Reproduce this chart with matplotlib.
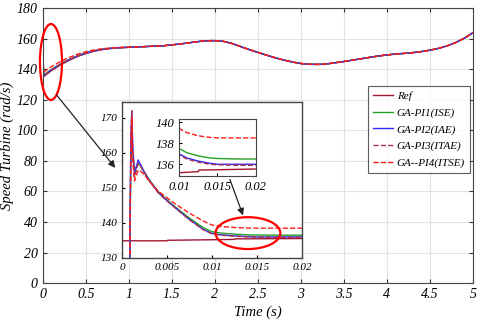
import numpy as np
import matplotlib.pyplot as plt
from matplotlib.patches import Ellipse, FancyArrowPatch

plt.rcParams['font.family'] = ['Liberation Serif', 'DejaVu Serif']
plt.rcParams['font.style'] = 'italic'

# --- data ---
# start-up transient (first 0.02 s)
t_in = [0, 0.0008, 0.0009, 0.0010, 0.0011, 0.0012, 0.0014, 0.0016, 0.0018, 0.0020,
        0.0025, 0.003, 0.004, 0.005, 0.006, 0.0075, 0.009, 0.010, 0.011, 0.0125,
        0.014, 0.015, 0.0175, 0.020]
pi1_in = [0, 0, 135, 158, 166, 160, 155, 156, 157, 156.5, 154.5, 152.5, 149, 146.6,
          144.4, 141.4, 138.7, 137.5, 137.1, 136.8, 136.6, 136.55, 136.5, 136.5]
pi2_in = [0, 0, 140, 165, 172, 162, 154, 156, 158, 157, 154.5, 152.3, 148.8, 146.4,
          144.2, 141.0, 138.2, 137.0, 136.6, 136.3, 136.1, 136.0, 136.0, 136.0]
pi3_in = [0, 0, 140, 166, 172, 161, 153, 155, 157, 156.5, 154.3, 152.2, 148.7, 146.3,
          144.1, 140.9, 138.1, 136.9, 136.5, 136.2, 136.0, 135.95, 135.9, 135.9]
pi4_in = [0, 0, 138, 160, 170, 158, 152, 153.5, 155, 155, 153.8, 152.0, 149.2, 147.2,
          145.3, 142.8, 140.6, 139.4, 139.0, 138.7, 138.55, 138.5, 138.5, 138.5]
t_ref_in = [0, 0.005, 0.0051, 0.010, 0.0125, 0.0126, 0.020]
ref_in = [134.9, 134.9, 135.05, 135.2, 135.3, 135.45, 135.55]

# rise up to 1 s
t_early = [0.1, 0.2, 0.3, 0.4, 0.5, 0.6, 0.7, 0.8, 0.9, 1.0]
ref_early = [139.0, 142.5, 145.6, 148.2, 150.2, 151.8, 152.9, 153.6, 154.0, 154.3]
pi1_early = [139.8, 143.2, 146.2, 148.7, 150.6, 152.1, 153.1, 153.7, 154.1, 154.3]
pi2_early = [139.5, 143.0, 146.0, 148.5, 150.5, 152.0, 153.0, 153.7, 154.1, 154.3]
pi3_early = [139.4, 142.9, 145.9, 148.5, 150.5, 152.0, 153.0, 153.7, 154.1, 154.3]
pi4_early = [141.6, 144.8, 147.5, 149.7, 151.4, 152.6, 153.4, 153.9, 154.2, 154.4]

# all curves overlap after 1 s
t_tail = [1.2, 1.4, 1.6, 1.8, 1.9, 2.0, 2.1, 2.2, 2.3, 2.4, 2.5, 2.6, 2.7, 2.8, 2.9,
          3.0, 3.1, 3.2, 3.3, 3.4, 3.5, 3.6, 3.7, 3.8, 3.9, 4.0, 4.1, 4.2, 4.3, 4.4,
          4.5, 4.6, 4.7, 4.8, 4.9, 5.0]
w_tail = [154.8, 155.3, 156.5, 158.0, 158.6, 158.7, 158.2, 156.8, 154.8, 152.8, 151.0,
          149.2, 147.5, 146.0, 144.7, 143.7, 143.2, 143.1, 143.4, 144.2, 145.0, 145.9,
          146.8, 147.7, 148.6, 149.3, 149.9, 150.3, 150.8, 151.5, 152.4, 153.6, 155.2,
          157.4, 160.2, 163.8]

labels = ['Ref', 'GA-PI1(ISE)', 'GA-PI2(IAE)', 'GA-PI3(ITAE)', 'GA--PI4(ITSE)']
colors = ['#A2142F', '#22A022', '#2B2BFF', '#B0304A', '#FF1A1A']
styles = ['-', '-', '-', '--', '--']

series = [
    (t_ref_in, ref_in, ref_early),
    (t_in, pi1_in, pi1_early),
    (t_in, pi2_in, pi2_early),
    (t_in, pi3_in, pi3_early),
    (t_in, pi4_in, pi4_early),
]
curves = []
for tt, win, wearly in series:
    t = np.concatenate([tt, t_early, t_tail])
    w = np.concatenate([win, wearly, w_tail])
    curves.append((t, w))

fig = plt.figure(figsize=(4.8, 3.35), dpi=100)
ax = fig.add_axes([0.089, 0.155, 0.896, 0.821])
for (t, w), lab, c, ls in zip(curves, labels, colors, styles):
    ax.plot(t, w, color=c, ls=ls, lw=1.0, label=lab)
ax.set_xlim(0, 5)
ax.set_ylim(0, 180)
ax.set_xticks(np.arange(0, 5.01, 0.5))
ax.set_xticklabels(['0', '0.5', '1', '1.5', '2', '2.5', '3', '3.5', '4', '4.5', '5'])
ax.set_yticks(np.arange(0, 181, 20))
ax.grid(True, color='#e2e2e2', lw=0.8)
ax.tick_params(direction='in', top=True, right=True, labelsize=10, length=3, color='#333333')
for s in ax.spines.values():
    s.set_color('#444444')
ax.set_xlabel('Time (s)', fontsize=10.5, labelpad=3)
ax.set_ylabel('Speed Turbine (rad/s)', fontsize=10.5, labelpad=2)

leg = ax.legend(loc='upper right', bbox_to_anchor=(0.979, 0.742), bbox_transform=fig.transFigure,
                fontsize=8, frameon=True, fancybox=False, edgecolor='#333333',
                handlelength=1.8, handletextpad=0.3, borderpad=0.45, labelspacing=0.6,
                borderaxespad=0)
leg.get_frame().set_linewidth(0.8)

ax.add_patch(Ellipse((0.096, 144.7), 0.256, 49.7, fill=False, color='red', lw=1.6,
                     zorder=5, clip_on=False))

# zoomed inset
axi = fig.add_axes([0.254, 0.230, 0.375, 0.466])
for (t, w), c, ls in zip(curves, colors, styles):
    axi.plot(t, w, color=c, ls=ls, lw=1.0)
axi.set_xlim(0, 0.02)
axi.set_ylim(130, 174.6)
axi.set_xticks([0, 0.005, 0.01, 0.015, 0.02])
axi.set_xticklabels(['0', '0.005', '0.01', '0.015', '0.02'])
axi.set_yticks([130, 140, 150, 160, 170])
axi.tick_params(direction='in', labelsize=8, length=2.5)
for s in axi.spines.values():
    s.set_color('#444444')
    s.set_linewidth(1.0)
axi.add_patch(Ellipse((0.014, 137.1), 0.0072, 9.1, fill=False, color='red', lw=1.6, zorder=5))

# second level inset
axz = fig.add_axes([0.373, 0.475, 0.160, 0.170])
for (t, w), c, ls in zip(curves, colors, styles):
    axz.plot(t, w, color=c, ls=ls, lw=1.0)
axz.set_xlim(0.01, 0.02)
axz.set_ylim(134.9, 140.3)
axz.set_xticks([0.01, 0.015, 0.02])
axz.set_xticklabels(['0.01', '0.015', '0.02'])
axz.set_yticks([136, 138, 140])
axz.tick_params(direction='in', labelsize=9, length=2)
for s in axz.spines.values():
    s.set_color('#444444')

# arrows
arrow = dict(arrowstyle='-|>', color='#222222', lw=0.9, mutation_scale=10)
fig.patches.append(FancyArrowPatch(
    (55 / 480, 1 - 93 / 335), (117 / 480, 1 - 170 / 335),
    transform=fig.transFigure, **arrow))
fig.patches.append(FancyArrowPatch(
    (229 / 480, 1 - 177 / 335), (244 / 480, 1 - 218 / 335),
    transform=fig.transFigure, **arrow))

fig.savefig('out.png', dpi=100)
